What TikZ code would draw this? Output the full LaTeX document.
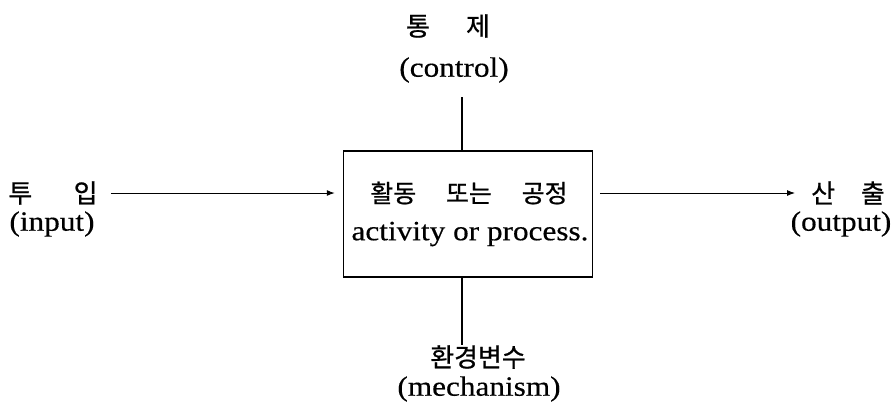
\documentclass[tikz,border=0pt]{standalone}
\usepackage{fontspec}
\setmainfont{Liberation Serif}[FakeStretch=1.12, FakeBold=0.4]
\newfontfamily\kr{Noto Sans CJK KR}[FakeBold=0.8]
\usetikzlibrary{arrows.meta}

\begin{document}
\begin{tikzpicture}[x=1bp, y=-1bp,
    kor/.style={font=\kr\fontsize{26}{26}\selectfont, inner sep=0pt},
    eng/.style={font=\fontsize{28}{28}\selectfont, inner sep=0pt},
    flow/.style={line width=1bp, -{Latex[length=8bp,width=6bp]}},
  ]
    \useasboundingbox (0,0) rectangle (894,414); % Set page size

    % the activity box
    \node[draw, line width=1.5bp, minimum width=249bp, minimum height=126bp, inner sep=0pt]
      (box) at (468,214) {};
    \node[kor, font=\kr\fontsize{25}{25}\selectfont] (boxkr) at (469,193)
      {활동\hspace{1.2em}또는\hspace{1.2em}공정};
    \node[eng] (boxen) at (470,234) {activity or process.};

    % labels round the box
    \node[kor] (ctrlkr) at (448,26) {통\hspace{1.4em}제};
    \node[eng] (ctrlen) at (454,70) {(control)};
    \node[kor] (inkr) at (53,193) {투\hspace{1.6em}입};
    \node[eng] (inen) at (52,224) {(input)};
    \node[kor] (outkr) at (848,193) {산\hspace{1.0em}출};
    \node[eng] (outen) at (841,224) {(output)};
    \node[kor] (mechkr) at (478,357) {환경변수};
    \node[eng] (mechen) at (479,389) {(mechanism)};

    % arrows in and out
    \draw[flow, shorten <=13bp, shorten >=8bp] (inkr) -- (inkr -| box.west);
    \draw[flow, shorten <=6.5bp, shorten >=16bp] (box.east |- outkr) -- (outkr);

    % control from above, mechanism from below
    \coordinate (top) at (462,97);
    \coordinate (bot) at (462,345);
    \draw[line width=1.5bp] (top) -- (top |- box.north);
    \draw[line width=1.5bp] (bot |- box.south) -- (bot);
\end{tikzpicture}
\end{document}
